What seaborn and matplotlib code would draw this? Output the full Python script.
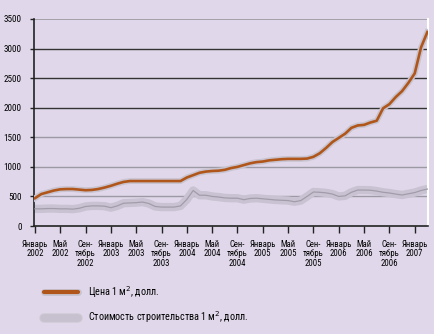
import matplotlib
matplotlib.use("Agg")
import matplotlib.pyplot as plt
import matplotlib.patheffects as pe
from matplotlib import font_manager
from matplotlib.lines import Line2D
import seaborn as sns
import pandas as pd
import numpy as np

# Monthly data, January 2002 .. March 2007
price = [470, 540, 570, 600, 620, 625, 625, 615, 605, 610, 625, 650,
         680, 715, 745, 760, 760, 760, 760, 760, 760, 760, 760, 760,
         820, 860, 900, 920, 930, 935, 950, 980, 1000, 1030, 1060, 1080,
         1090, 1110, 1120, 1130, 1135, 1135, 1135, 1140, 1170, 1230, 1320, 1420,
         1490, 1560, 1660, 1700, 1710, 1750, 1780, 1990, 2060, 2180, 2280, 2420,
         2580, 3020, 3280]
cost = [290, 290, 295, 295, 290, 290, 285, 300, 330, 340, 340, 335,
        310, 340, 385, 390, 395, 405, 380, 330, 320, 320, 320, 340,
        450, 600, 520, 520, 500, 490, 475, 470, 470, 445, 465, 470,
        460, 450, 440, 435, 430, 410, 430, 500, 575, 570, 560, 540,
        500, 510, 570, 608, 608, 605, 590, 570, 558, 540, 524, 545,
        565, 600, 625]
tick_labels = ["Январь\n2002", "Май\n2002", "Сен-\nтябрь\n2002",
               "Январь\n2003", "Май\n2003", "Сен-\nтябрь\n2003",
               "Январь\n2004", "Май\n2004", "Сен-\nтябрь\n2004",
               "Январь\n2005", "Май\n2005", "Сен-\nтябрь\n2005",
               "Январь\n2006", "Май\n2006", "Сен-\nтябрь\n2006",
               "Январь\n2007"]
tick_months = list(range(0, 61, 4))
y_ticks = [0, 500, 1000, 1500, 2000, 2500, 3000, 3500]
series_names = ["Цена 1 м$^2$, долл.", "Стоимость строительства 1 м$^2$, долл."]

month = np.arange(len(price))
df = pd.DataFrame({"month": month, "price": price, "cost": cost})

bg = "#E0D8EA"
available = {f.name for f in font_manager.fontManager.ttflist}
narrow = None
for cand in ["Liberation Sans Narrow", "DejaVu Sans Condensed", "Roboto Condensed",
             "Open Sans Condensed", "Noto Sans Condensed"]:
    if cand in available:
        narrow = cand
        break
if narrow:
    plt.rcParams["font.family"] = [narrow, "DejaVu Sans"]
    tick_fs, leg_fs = 6.3, 7.3
else:
    plt.rcParams["font.family"] = ["Liberation Sans", "DejaVu Sans"]
    tick_fs, leg_fs = 5.6, 6.8

fig = plt.figure(figsize=(4.34, 3.34), dpi=100, facecolor=bg)
ax = fig.add_axes([34/434, 1-226/334, (428-34)/434, (226-19)/334])
ax.set_facecolor(bg)

grid_cols = {500: "#9C98A4", 1000: "#9C98A4", 1500: "#9C98A4",
             2000: "#333333", 2500: "#333333", 3000: "#333333", 3500: "#A4A0AA"}
for v in y_ticks[1:]:
    ax.axhline(v, color=grid_cols[v], lw=1.0 if v != 3500 else 1.4, zorder=1)

# cost: light band with thin darker line
sns.lineplot(data=df, x="month", y="cost", ax=ax, color="#C8C2D2", lw=6.0,
             zorder=2, solid_capstyle="round")
sns.lineplot(data=df, x="month", y="cost", ax=ax, color="#A29CAA", lw=0.9, zorder=3)
# price: orange line with grey halo
sns.lineplot(data=df, x="month", y="price", ax=ax, color="#B0561A", lw=1.9, zorder=4,
             path_effects=[pe.Stroke(linewidth=4.2, foreground="#C8C3D0"), pe.Normal()])

ax.set_xlim(-0.15, 62.1)
ax.set_ylim(0, 3500)
ax.set_xticks(tick_months)
ax.set_xticklabels(tick_labels, fontsize=tick_fs, linespacing=1.05, va="top")
ax.set_yticks(y_ticks)
ax.set_yticklabels([str(v) for v in y_ticks], fontsize=tick_fs + 0.3)
ax.set_xlabel("")
ax.set_ylabel("")
ax.tick_params(axis="x", length=5, width=1, color="#222222", pad=5)
ax.tick_params(axis="y", length=3, width=1, color="#222222", pad=6)
ax.spines["top"].set_visible(False)
ax.spines["right"].set_color("white")
ax.spines["right"].set_linewidth(1.5)
for s in ["left", "bottom"]:
    ax.spines[s].set_color("#222222")
    ax.spines[s].set_linewidth(1.2)

h1 = Line2D([], [], color="#B0561A", lw=3, solid_capstyle="round",
            path_effects=[pe.Stroke(linewidth=5.0, foreground="#C8C3D0", capstyle="round"), pe.Normal()])
h2 = Line2D([], [], color="#C6C0CF", lw=5.5, solid_capstyle="round",
            path_effects=[pe.Stroke(linewidth=7, foreground="#D2CCD8", capstyle="round"), pe.Normal()])
leg = fig.legend([h1, h2], series_names, loc="upper left",
                 bbox_to_anchor=(44/434, 1-284/334), frameon=False, borderpad=0,
                 borderaxespad=0, fontsize=leg_fs, handlelength=3.4,
                 handletextpad=0.9, labelspacing=0.95)

fig.savefig("out.png", dpi=100, facecolor=bg)
